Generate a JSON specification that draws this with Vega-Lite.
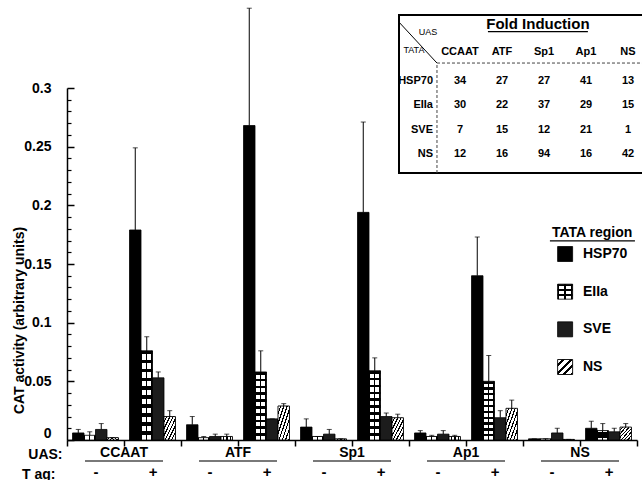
{
  "$schema": "https://vega.github.io/schema/vega-lite/v6.json",
  "width": 570,
  "height": 352,
  "autosize": {"type": "none"},
  "padding": {"left": 67, "top": 88, "right": 5, "bottom": 40},
  "background": "white",
  "config": {
    "font": "Liberation Sans",
    "view": {"stroke": null},
    "axis": {"grid": false, "labelColor": "#000", "titleColor": "#000", "domainColor": "#000", "tickColor": "#000", "labelFontWeight": "bold", "titleFontWeight": "bold", "labelFont": "Liberation Sans", "titleFont": "Liberation Sans"}
  },
  "layer": [
    {
      "data": {"values": [
        {"group": "CCAAT -", "tata": "HSP70", "value": 0.006, "upper": 0.009},
        {"group": "CCAAT -", "tata": "EIIa", "value": 0.004, "upper": 0.007},
        {"group": "CCAAT -", "tata": "SVE", "value": 0.009, "upper": 0.014},
        {"group": "CCAAT -", "tata": "NS", "value": 0.002, "upper": 0.002},
        {"group": "CCAAT +", "tata": "HSP70", "value": 0.179, "upper": 0.249},
        {"group": "CCAAT +", "tata": "EIIa", "value": 0.076, "upper": 0.088},
        {"group": "CCAAT +", "tata": "SVE", "value": 0.053, "upper": 0.058},
        {"group": "CCAAT +", "tata": "NS", "value": 0.020, "upper": 0.025},
        {"group": "ATF -", "tata": "HSP70", "value": 0.013, "upper": 0.020},
        {"group": "ATF -", "tata": "EIIa", "value": 0.002, "upper": 0.003},
        {"group": "ATF -", "tata": "SVE", "value": 0.003, "upper": 0.005},
        {"group": "ATF -", "tata": "NS", "value": 0.003, "upper": 0.005},
        {"group": "ATF +", "tata": "HSP70", "value": 0.268, "upper": 0.368},
        {"group": "ATF +", "tata": "EIIa", "value": 0.058, "upper": 0.076},
        {"group": "ATF +", "tata": "SVE", "value": 0.018, "upper": 0.018},
        {"group": "ATF +", "tata": "NS", "value": 0.029, "upper": 0.031},
        {"group": "Sp1 -", "tata": "HSP70", "value": 0.011, "upper": 0.018},
        {"group": "Sp1 -", "tata": "EIIa", "value": 0.003, "upper": 0.003},
        {"group": "Sp1 -", "tata": "SVE", "value": 0.005, "upper": 0.009},
        {"group": "Sp1 -", "tata": "NS", "value": 0.001, "upper": 0.001},
        {"group": "Sp1 +", "tata": "HSP70", "value": 0.194, "upper": 0.271},
        {"group": "Sp1 +", "tata": "EIIa", "value": 0.059, "upper": 0.070},
        {"group": "Sp1 +", "tata": "SVE", "value": 0.020, "upper": 0.023},
        {"group": "Sp1 +", "tata": "NS", "value": 0.019, "upper": 0.022},
        {"group": "Ap1 -", "tata": "HSP70", "value": 0.006, "upper": 0.008},
        {"group": "Ap1 -", "tata": "EIIa", "value": 0.003, "upper": 0.004},
        {"group": "Ap1 -", "tata": "SVE", "value": 0.005, "upper": 0.008},
        {"group": "Ap1 -", "tata": "NS", "value": 0.003, "upper": 0.004},
        {"group": "Ap1 +", "tata": "HSP70", "value": 0.140, "upper": 0.173},
        {"group": "Ap1 +", "tata": "EIIa", "value": 0.050, "upper": 0.072},
        {"group": "Ap1 +", "tata": "SVE", "value": 0.019, "upper": 0.025},
        {"group": "Ap1 +", "tata": "NS", "value": 0.027, "upper": 0.034},
        {"group": "NS -", "tata": "HSP70", "value": 0.001, "upper": 0.001},
        {"group": "NS -", "tata": "EIIa", "value": 0.001, "upper": 0.001},
        {"group": "NS -", "tata": "SVE", "value": 0.006, "upper": 0.010},
        {"group": "NS -", "tata": "NS", "value": 0.0005, "upper": 0.0005},
        {"group": "NS +", "tata": "HSP70", "value": 0.010, "upper": 0.016},
        {"group": "NS +", "tata": "EIIa", "value": 0.008, "upper": 0.014},
        {"group": "NS +", "tata": "SVE", "value": 0.007, "upper": 0.010},
        {"group": "NS +", "tata": "NS", "value": 0.011, "upper": 0.014}
      ]},
      "encoding": {
        "x": {"field": "group", "type": "nominal",
          "scale": {"domain": ["CCAAT -", "CCAAT +", "ATF -", "ATF +", "Sp1 -", "Sp1 +", "Ap1 -", "Ap1 +", "NS -", "NS +"], "paddingInner": 0, "paddingOuter": 0},
          "axis": {"orient": "bottom", "tickBand": "extent", "tickSize": 6, "tickWidth": 1.5, "domainWidth": 1.5, "labelExpr": "split(datum.label, ' ')[1]", "labelAngle": 0, "labelPadding": 18, "labelFontSize": 15, "title": "T ag:", "titleFontSize": 14, "titleX": -12, "titleY": 38, "titleAlign": "right", "titleBaseline": "alphabetic"}},
        "xOffset": {"field": "tata", "type": "nominal", "scale": {"domain": ["HSP70", "EIIa", "SVE", "NS"], "paddingInner": 0, "paddingOuter": 0.48}},
        "y": {"field": "value", "type": "quantitative", "title": "CAT activity (arbitrary units)",
          "scale": {"domain": [0, 0.3], "nice": false},
          "axis": {"orient": "left", "values": [0, 0.05, 0.1, 0.15, 0.2, 0.25, 0.3], "format": "~g", "tickSize": -7, "tickWidth": 1.5, "domainWidth": 1.5, "labelPadding": 23, "labelFontSize": 14,
            "labelBaseline": {"condition": {"test": "datum.value === 0", "value": "bottom"}, "value": "middle"},
            "titleFontSize": 14, "titleX": -48, "titleY": 232, "titleAlign": "center", "titleBaseline": "middle"}}
      },
      "layer": [
        {"transform": [{"filter": "datum.tata === 'HSP70'"}], "mark": {"type": "bar", "fill": "#000", "stroke": "#000", "strokeWidth": 0.8}},
        {"transform": [{"filter": "datum.tata === 'EIIa'"}], "mark": {"type": "bar", "stroke": "#000", "strokeWidth": 0.8,
          "fill": {"gradient": "linear", "x1": 0, "y1": 0, "x2": 1, "y2": 0, "stops": [
            {"offset": 0, "color": "#000"}, {"offset": 0.1, "color": "#000"}, {"offset": 0.1, "color": "#fff"}, {"offset": 0.44, "color": "#fff"},
            {"offset": 0.44, "color": "#000"}, {"offset": 0.56, "color": "#000"}, {"offset": 0.56, "color": "#fff"}, {"offset": 0.9, "color": "#fff"},
            {"offset": 0.9, "color": "#000"}, {"offset": 1, "color": "#000"}]}}},
        {"transform": [{"filter": "datum.tata === 'EIIa'"}], "mark": {"type": "bar", "strokeWidth": 0,
          "fill": {"gradient": "linear", "x1": 0, "y1": 0, "x2": 0, "y2": 1, "stops": [
            {"offset": 0, "color": "#000"}, {"offset": 0.04, "color": "#000"}, {"offset": 0.04, "color": "rgba(0,0,0,0)"}, {"offset": 0.1, "color": "rgba(0,0,0,0)"},
            {"offset": 0.1, "color": "#000"}, {"offset": 0.14, "color": "#000"}, {"offset": 0.14, "color": "rgba(0,0,0,0)"}, {"offset": 0.2, "color": "rgba(0,0,0,0)"},
            {"offset": 0.2, "color": "#000"}, {"offset": 0.24, "color": "#000"}, {"offset": 0.24, "color": "rgba(0,0,0,0)"}, {"offset": 0.3, "color": "rgba(0,0,0,0)"},
            {"offset": 0.3, "color": "#000"}, {"offset": 0.34, "color": "#000"}, {"offset": 0.34, "color": "rgba(0,0,0,0)"}, {"offset": 0.4, "color": "rgba(0,0,0,0)"},
            {"offset": 0.4, "color": "#000"}, {"offset": 0.44, "color": "#000"}, {"offset": 0.44, "color": "rgba(0,0,0,0)"}, {"offset": 0.5, "color": "rgba(0,0,0,0)"},
            {"offset": 0.5, "color": "#000"}, {"offset": 0.54, "color": "#000"}, {"offset": 0.54, "color": "rgba(0,0,0,0)"}, {"offset": 0.6, "color": "rgba(0,0,0,0)"},
            {"offset": 0.6, "color": "#000"}, {"offset": 0.64, "color": "#000"}, {"offset": 0.64, "color": "rgba(0,0,0,0)"}, {"offset": 0.7, "color": "rgba(0,0,0,0)"},
            {"offset": 0.7, "color": "#000"}, {"offset": 0.74, "color": "#000"}, {"offset": 0.74, "color": "rgba(0,0,0,0)"}, {"offset": 0.8, "color": "rgba(0,0,0,0)"},
            {"offset": 0.8, "color": "#000"}, {"offset": 0.84, "color": "#000"}, {"offset": 0.84, "color": "rgba(0,0,0,0)"}, {"offset": 0.9, "color": "rgba(0,0,0,0)"},
            {"offset": 0.9, "color": "#000"}, {"offset": 0.94, "color": "#000"}, {"offset": 0.94, "color": "rgba(0,0,0,0)"}, {"offset": 1, "color": "rgba(0,0,0,0)"}]}}},
        {"transform": [{"filter": "datum.tata === 'SVE'"}], "mark": {"type": "bar", "fill": "#1c1c1c", "stroke": "#000", "strokeWidth": 0.8}},
        {"transform": [{"filter": "datum.tata === 'NS'"}], "mark": {"type": "bar", "stroke": "#000", "strokeWidth": 0.9,
          "fill": {"gradient": "linear", "x1": 0, "y1": 0, "x2": 1, "y2": 1, "stops": [
            {"offset": 0, "color": "#fff"}, {"offset": 0.09, "color": "#fff"}, {"offset": 0.09, "color": "#000"}, {"offset": 0.143, "color": "#000"},
            {"offset": 0.143, "color": "#fff"}, {"offset": 0.233, "color": "#fff"}, {"offset": 0.233, "color": "#000"}, {"offset": 0.286, "color": "#000"},
            {"offset": 0.286, "color": "#fff"}, {"offset": 0.376, "color": "#fff"}, {"offset": 0.376, "color": "#000"}, {"offset": 0.429, "color": "#000"},
            {"offset": 0.429, "color": "#fff"}, {"offset": 0.519, "color": "#fff"}, {"offset": 0.519, "color": "#000"}, {"offset": 0.571, "color": "#000"},
            {"offset": 0.571, "color": "#fff"}, {"offset": 0.661, "color": "#fff"}, {"offset": 0.661, "color": "#000"}, {"offset": 0.714, "color": "#000"},
            {"offset": 0.714, "color": "#fff"}, {"offset": 0.804, "color": "#fff"}, {"offset": 0.804, "color": "#000"}, {"offset": 0.857, "color": "#000"},
            {"offset": 0.857, "color": "#fff"}, {"offset": 0.947, "color": "#fff"}, {"offset": 0.947, "color": "#000"}, {"offset": 1, "color": "#000"}]}}},
        {"mark": {"type": "rule", "color": "#000", "strokeWidth": 1}, "encoding": {"y2": {"field": "upper"}}},
        {"mark": {"type": "tick", "orient": "horizontal", "size": 5, "thickness": 1, "color": "#000"},
          "encoding": {"y": {"field": "upper", "type": "quantitative", "title": "CAT activity (arbitrary units)"}}}
      ]
    },
    {
      "data": {"values": [{"uas": "CCAAT"}, {"uas": "ATF"}, {"uas": "Sp1"}, {"uas": "Ap1"}, {"uas": "NS"}]},
      "mark": {"type": "tick", "orient": "horizontal", "size": 78, "thickness": 1.5, "color": "#000"},
      "encoding": {
        "x": {"field": "uas", "type": "nominal",
          "scale": {"domain": ["CCAAT", "ATF", "Sp1", "Ap1", "NS"], "paddingInner": 0, "paddingOuter": 0},
          "axis": {"orient": "bottom", "domain": false, "ticks": false, "labelPadding": 5, "labelFontSize": 14, "labelAngle": 0, "title": "UAS:", "titleFontSize": 14, "titleX": -5, "titleY": 18, "titleAlign": "right", "titleBaseline": "alphabetic"}},
        "y": {"datum": -0.0179, "type": "quantitative",
          "scale": {"domain": [0, 0.3], "nice": false},
          "axis": {"orient": "left", "values": [0.01, 0.02, 0.03, 0.04, 0.06, 0.07, 0.08, 0.09, 0.11, 0.12, 0.13, 0.14, 0.16, 0.17, 0.18, 0.19, 0.21, 0.22, 0.23, 0.24, 0.26, 0.27, 0.28, 0.29], "labels": false, "domain": false, "tickSize": -4, "tickWidth": 1.2, "title": null}}
      }
    },
    {
      "data": {"values": [{}]},
      "layer": [
        {"mark": {"type": "rect", "fill": "#fff", "stroke": "#000", "strokeWidth": 2},
          "encoding": {
            "x": {"datum": 0, "type": "quantitative", "scale": {"domain": [0, 1], "range": [332, 577]}, "axis": null},
            "x2": {"datum": 1.1},
            "y": {"datum": 0, "type": "quantitative", "scale": {"domain": [0, 1], "range": [85, -73]}, "axis": null},
            "y2": {"datum": 1}}},
        {"mark": {"type": "rule", "color": "#000", "strokeWidth": 1},
          "encoding": {"x": {"datum": 0, "type": "quantitative"}, "x2": {"datum": 0.155}, "y": {"datum": 0.955, "type": "quantitative"}, "y2": {"datum": 0.696}}},
        {"mark": {"type": "rule", "color": "#444", "strokeWidth": 1, "strokeDash": [3, 2]},
          "encoding": {"x": {"datum": 0.155, "type": "quantitative"}, "y": {"datum": 0, "type": "quantitative"}, "y2": {"datum": 0.696}}},
        {"mark": {"type": "rule", "color": "#444", "strokeWidth": 1, "strokeDash": [3, 2]},
          "encoding": {"x": {"datum": 0.155, "type": "quantitative"}, "x2": {"datum": 1.1}, "y": {"datum": 0.696, "type": "quantitative"}}},
        {"mark": {"type": "text", "text": "Fold Induction", "fontSize": 15, "fontWeight": "bold", "align": "center", "baseline": "middle"},
          "encoding": {"x": {"datum": 0.567, "type": "quantitative"}, "y": {"datum": 0.943, "type": "quantitative"}}},
        {"mark": {"type": "rule", "color": "#000", "strokeWidth": 1.3},
          "encoding": {"x": {"datum": 0.363, "type": "quantitative"}, "x2": {"datum": 0.771}, "y": {"datum": 0.895, "type": "quantitative"}}},
        {"mark": {"type": "text", "text": "UAS", "fontSize": 9, "align": "center", "baseline": "middle"},
          "encoding": {"x": {"datum": 0.118, "type": "quantitative"}, "y": {"datum": 0.895, "type": "quantitative"}}},
        {"mark": {"type": "text", "text": "TATA", "fontSize": 9, "align": "center", "baseline": "middle"},
          "encoding": {"x": {"datum": 0.061, "type": "quantitative"}, "y": {"datum": 0.778, "type": "quantitative"}}},
        {"mark": {"type": "text", "text": "TATA region", "fontSize": 14, "fontWeight": "bold", "align": "center", "baseline": "middle"},
          "encoding": {"x": {"datum": 0.788, "type": "quantitative"}, "y": {"datum": -0.38, "type": "quantitative"}}},
        {"mark": {"type": "rule", "color": "#000", "strokeWidth": 1.3},
          "encoding": {"x": {"datum": 0.616, "type": "quantitative"}, "x2": {"datum": 0.963}, "y": {"datum": -0.43, "type": "quantitative"}}}
      ]
    },
    {
      "data": {"values": [
        {"tata": "HSP70", "uas": "CCAAT", "fold": 34}, {"tata": "HSP70", "uas": "ATF", "fold": 27}, {"tata": "HSP70", "uas": "Sp1", "fold": 27}, {"tata": "HSP70", "uas": "Ap1", "fold": 41}, {"tata": "HSP70", "uas": "NS", "fold": 13},
        {"tata": "EIIa", "uas": "CCAAT", "fold": 30}, {"tata": "EIIa", "uas": "ATF", "fold": 22}, {"tata": "EIIa", "uas": "Sp1", "fold": 37}, {"tata": "EIIa", "uas": "Ap1", "fold": 29}, {"tata": "EIIa", "uas": "NS", "fold": 15},
        {"tata": "SVE", "uas": "CCAAT", "fold": 7}, {"tata": "SVE", "uas": "ATF", "fold": 15}, {"tata": "SVE", "uas": "Sp1", "fold": 12}, {"tata": "SVE", "uas": "Ap1", "fold": 21}, {"tata": "SVE", "uas": "NS", "fold": 1},
        {"tata": "NS", "uas": "CCAAT", "fold": 12}, {"tata": "NS", "uas": "ATF", "fold": 16}, {"tata": "NS", "uas": "Sp1", "fold": 94}, {"tata": "NS", "uas": "Ap1", "fold": 16}, {"tata": "NS", "uas": "NS", "fold": 42}
      ]},
      "encoding": {
        "x": {"field": "uas", "type": "nominal", "scale": {"type": "point", "domain": ["CCAAT", "ATF", "Sp1", "Ap1", "NS"], "range": [393, 561], "padding": 0}, "axis": null},
        "y": {"field": "tata", "type": "nominal", "scale": {"type": "point", "domain": ["HSP70", "EIIa", "SVE", "NS"], "range": [-7, 66], "padding": 0}, "axis": null}
      },
      "layer": [
        {"mark": {"type": "text", "fontSize": 11, "fontWeight": "bold", "align": "center", "baseline": "middle"}, "encoding": {"text": {"field": "fold"}}},
        {"transform": [{"filter": "datum.tata === 'HSP70'"}], "mark": {"type": "text", "fontSize": 11, "fontWeight": "bold", "align": "center", "baseline": "middle", "dy": -29}, "encoding": {"text": {"field": "uas"}}},
        {"transform": [{"filter": "datum.uas === 'CCAAT'"}], "mark": {"type": "text", "fontSize": 11, "fontWeight": "bold", "align": "right", "baseline": "middle", "dx": -27}, "encoding": {"text": {"field": "tata"}}}
      ]
    },
    {
      "data": {"values": [{"tata": "HSP70"}, {"tata": "EIIa"}, {"tata": "SVE"}, {"tata": "NS"}]},
      "encoding": {
        "x": {"datum": 0.678, "type": "quantitative", "scale": {"domain": [0, 1], "range": [332, 577]}, "axis": null},
        "y": {"field": "tata", "type": "nominal", "scale": {"type": "point", "domain": ["HSP70", "EIIa", "SVE", "NS"], "range": [166, 279], "padding": 0}, "axis": null}
      },
      "layer": [
        {"transform": [{"filter": "datum.tata === 'HSP70'"}], "mark": {"type": "square", "size": 225, "filled": true, "fill": "#000", "stroke": "#000", "strokeWidth": 0.8, "opacity": 1}},
        {"transform": [{"filter": "datum.tata === 'EIIa'"}], "mark": {"type": "square", "size": 225, "filled": true, "opacity": 1, "stroke": "#000", "strokeWidth": 0.8,
          "fill": {"gradient": "linear", "x1": 0, "y1": 0, "x2": 1, "y2": 0, "stops": [
            {"offset": 0, "color": "#000"}, {"offset": 0.1, "color": "#000"}, {"offset": 0.1, "color": "#fff"}, {"offset": 0.44, "color": "#fff"},
            {"offset": 0.44, "color": "#000"}, {"offset": 0.56, "color": "#000"}, {"offset": 0.56, "color": "#fff"}, {"offset": 0.9, "color": "#fff"},
            {"offset": 0.9, "color": "#000"}, {"offset": 1, "color": "#000"}]}}},
        {"transform": [{"filter": "datum.tata === 'EIIa'"}], "mark": {"type": "square", "size": 225, "filled": true, "opacity": 1, "strokeWidth": 0,
          "fill": {"gradient": "linear", "x1": 0, "y1": 0, "x2": 0, "y2": 1, "stops": [
            {"offset": 0, "color": "#000"}, {"offset": 0.12, "color": "#000"}, {"offset": 0.12, "color": "rgba(0,0,0,0)"}, {"offset": 0.333, "color": "rgba(0,0,0,0)"},
            {"offset": 0.333, "color": "#000"}, {"offset": 0.453, "color": "#000"}, {"offset": 0.453, "color": "rgba(0,0,0,0)"}, {"offset": 0.667, "color": "rgba(0,0,0,0)"},
            {"offset": 0.667, "color": "#000"}, {"offset": 0.787, "color": "#000"}, {"offset": 0.787, "color": "rgba(0,0,0,0)"}, {"offset": 1, "color": "rgba(0,0,0,0)"}]}}},
        {"transform": [{"filter": "datum.tata === 'SVE'"}], "mark": {"type": "square", "size": 225, "filled": true, "fill": "#1c1c1c", "stroke": "#000", "strokeWidth": 0.8, "opacity": 1}},
        {"transform": [{"filter": "datum.tata === 'NS'"}], "mark": {"type": "square", "size": 225, "filled": true, "opacity": 1, "stroke": "#000", "strokeWidth": 0.9,
          "fill": {"gradient": "linear", "x1": 0, "y1": 0, "x2": 1, "y2": 1, "stops": [
            {"offset": 0, "color": "#fff"}, {"offset": 0.16, "color": "#fff"}, {"offset": 0.16, "color": "#000"}, {"offset": 0.25, "color": "#000"},
            {"offset": 0.25, "color": "#fff"}, {"offset": 0.41, "color": "#fff"}, {"offset": 0.41, "color": "#000"}, {"offset": 0.5, "color": "#000"},
            {"offset": 0.5, "color": "#fff"}, {"offset": 0.66, "color": "#fff"}, {"offset": 0.66, "color": "#000"}, {"offset": 0.75, "color": "#000"},
            {"offset": 0.75, "color": "#fff"}, {"offset": 0.91, "color": "#fff"}, {"offset": 0.91, "color": "#000"}, {"offset": 1, "color": "#000"}]}}},
        {"mark": {"type": "text", "fontSize": 14, "fontWeight": "bold", "align": "left", "baseline": "middle"},
          "encoding": {"x": {"datum": 0.751, "type": "quantitative"}, "text": {"field": "tata"}}}
      ]
    }
  ],
  "resolve": {"scale": {"x": "independent", "y": "independent"}, "axis": {"x": "independent", "y": "independent"}}
}
